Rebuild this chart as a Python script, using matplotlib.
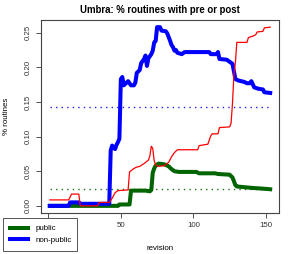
import numpy as np
import matplotlib
matplotlib.use("Agg")
import matplotlib.pyplot as plt

plt.rcParams['font.family'] = ['Liberation Sans', 'DejaVu Sans']

# non-public series (revision, share)
blue_rev = [1, 14, 15, 21, 22, 42, 43, 44, 46, 47, 48, 49, 50, 51, 52, 54, 55, 57, 59, 60,
            61, 63, 64, 66, 67, 68, 69, 71, 72, 73, 74, 75, 77, 78, 81, 82, 84, 85, 86, 87,
            88, 89, 92, 94, 111, 112, 116, 117, 118, 123, 125, 127, 129, 131, 135, 137, 139,
            140, 142, 145, 148, 149, 153]
blue_val = [0.0, 0.0, 0.005, 0.005, 0.003, 0.003, 0.080, 0.087, 0.082, 0.088, 0.092, 0.097,
            0.183, 0.186, 0.174, 0.178, 0.180, 0.174, 0.174, 0.178, 0.192, 0.196, 0.206, 0.212,
            0.217, 0.202, 0.213, 0.219, 0.224, 0.236, 0.238, 0.258, 0.258, 0.253, 0.252, 0.249,
            0.238, 0.232, 0.229, 0.224, 0.225, 0.221, 0.219, 0.222, 0.222, 0.219, 0.219, 0.222,
            0.212, 0.211, 0.208, 0.205, 0.183, 0.181, 0.179, 0.177, 0.177, 0.180, 0.171, 0.169,
            0.168, 0.164, 0.163]

# public series
green_rev = [1, 48, 49, 56, 57, 67, 70, 71, 72, 73, 74, 76, 80, 83, 85, 87, 90, 102, 104,
             115, 117, 125, 127, 129, 130, 135, 140, 147, 153]
green_val = [0.0, 0.0, 0.002, 0.002, 0.022, 0.022, 0.021, 0.023, 0.048, 0.054, 0.058, 0.061,
             0.060, 0.057, 0.053, 0.050, 0.049, 0.049, 0.047, 0.047, 0.046, 0.045, 0.041,
             0.030, 0.028, 0.027, 0.026, 0.025, 0.024]

# all routines (red)
red_rev = [1, 14, 16, 21, 22, 34, 35, 42, 44, 46, 48, 55, 56, 59, 61, 63, 66, 69, 70, 71,
           72, 73, 74, 76, 80, 83, 85, 87, 89, 103, 104, 110, 112, 113, 117, 118, 125, 126,
           127, 128, 129, 130, 137, 138, 141, 143, 144, 148, 149, 153]
red_val = [0.0086, 0.0086, 0.017, 0.017, 0.0, 0.0, 0.005, 0.005, 0.011, 0.019, 0.022, 0.023,
           0.049, 0.054, 0.056, 0.057, 0.061, 0.066, 0.072, 0.086, 0.083, 0.065, 0.059, 0.057,
           0.058, 0.063, 0.071, 0.077, 0.081, 0.081, 0.087, 0.089, 0.101, 0.104, 0.104, 0.113,
           0.114, 0.119, 0.148, 0.190, 0.207, 0.236, 0.236, 0.243, 0.245, 0.247, 0.251, 0.252,
           0.257, 0.258]

# overall averages (dotted)
blue_mean = 0.1427
green_mean = 0.0244

# the "0" label sits under the legend box in the original
x_ticks = [0, 50, 100, 150]
x_labels = ['', '50', '100', '150']
y_ticks = [0, 0.05, 0.10, 0.15, 0.20, 0.25]
y_labels = ['0.00', '0.05', '0.10', '0.15', '0.20', '0.25']

fig = plt.figure(figsize=(2.94, 2.54), dpi=100)
ax = fig.add_axes([41/294, 1-213/254, 238/294, 193/254])

ax.plot([blue_rev[0], blue_rev[-1]], [blue_mean, blue_mean], color='#2020ff', lw=1.0,
        linestyle=(0, (1, 3)))
ax.plot([green_rev[0], green_rev[-1]], [green_mean, green_mean], color='#1a701a', lw=1.0,
        linestyle=(0, (1, 3)))
ax.plot(green_rev, green_val, color='#006400', lw=2.9, solid_joinstyle='round')
ax.plot(blue_rev, blue_val, color='#0000ff', lw=2.9, solid_joinstyle='round')
ax.plot(red_rev, red_val, color='#ff0000', lw=0.9)

ax.set_xlim(-5.08, 159.08)
ax.set_ylim(-0.0103, 0.2683)
ax.set_xticks(x_ticks)
ax.set_xticklabels(x_labels)
ax.set_yticks(y_ticks)
ax.set_yticklabels(y_labels, rotation=90, va='center')
ax.tick_params(labelsize=5.7, length=3.5, width=0.6, colors='#333333', pad=3)
for s in ax.spines.values():
    s.set_color('#444444')
    s.set_linewidth(0.8)

fig.text(160/294, 1-10/254, 'Umbra: % routines with pre or post', ha='center', va='center',
         fontsize=6.9, fontweight='bold')
fig.text(160/294, 1-248/254, 'revision', ha='center', va='center', fontsize=5.7)
fig.text(7/294, 1-116.5/254, '% routines', ha='center', va='center', fontsize=5.7,
         rotation=90)

h1, = ax.plot([], [], color='#006400', lw=2.9)
h2, = ax.plot([], [], color='#0000ff', lw=2.9)
leg = fig.legend([h1, h2], ['public', 'non-public'], loc='lower left',
                 bbox_to_anchor=(3/294, 3/254, 74/294, 0.1), mode='expand',
                 borderaxespad=0, fontsize=5.7, handlelength=2.3, handletextpad=0.9,
                 labelspacing=0.5, borderpad=0.9, fancybox=False, framealpha=1)
leg.get_frame().set_edgecolor('#555555')
leg.get_frame().set_linewidth(0.7)

fig.savefig('out.png', dpi=100)
